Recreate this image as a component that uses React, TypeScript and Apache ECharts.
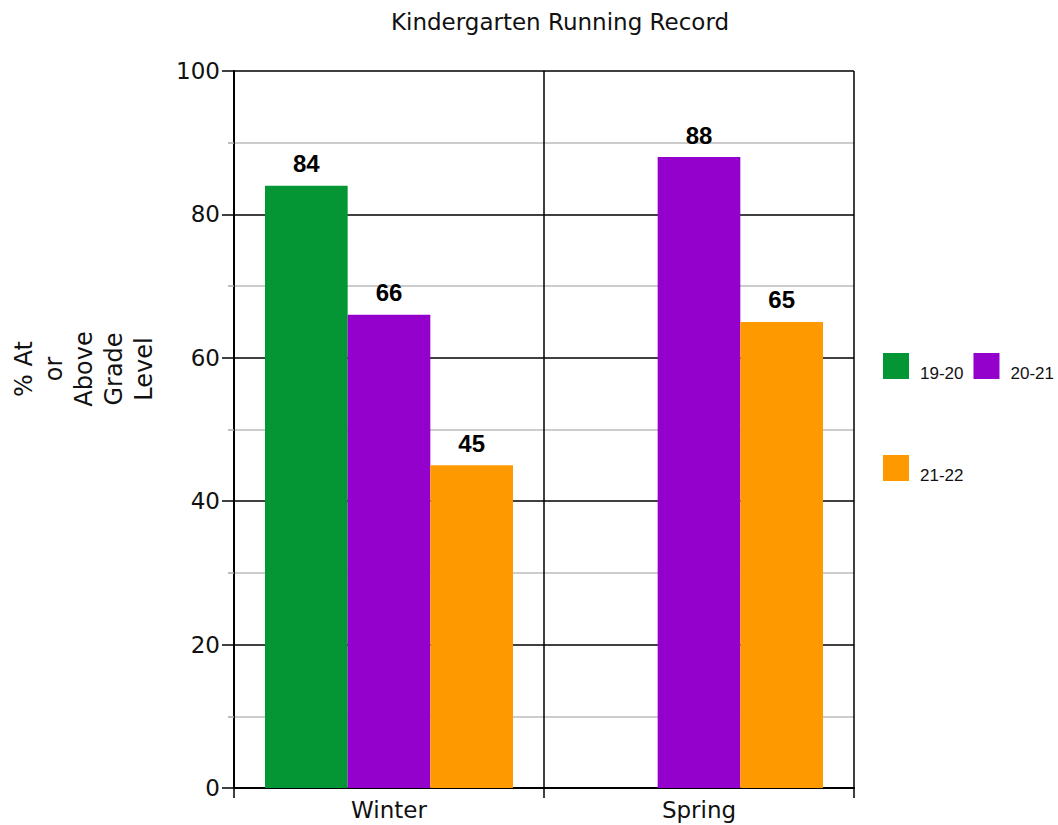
import React, { useEffect, useRef } from "react";
import * as echarts from "echarts";

const categories = ["Winter", "Spring"];
const seriesNames = ["19-20", "20-21", "21-22"];
const values1920 = [84, null];
const values2021 = [66, 88];
const values2122 = [45, 65];
const colors = ["#049634", "#9400CC", "#FF9900"];
const titleText = "Kindergarten Running Record";
const yAxisTitle = "% At\nor\nAbove\nGrade\nLevel";

export default function App() {
  const ref = useRef<HTMLDivElement>(null);
  useEffect(() => {
    if (!ref.current) return;
    const chart = echarts.init(ref.current, null, { renderer: "svg" });
    const font = "Liberation Sans, Arial, sans-serif";
    const wide = "DejaVu Sans, sans-serif";
    const allValues = [values1920, values2021, values2122];
    const legendText = {
      fontSize: 17,
      color: "#111",
      fontFamily: font,
      rich: { t: { fontSize: 17, color: "#111", fontFamily: font, padding: [15, 0, 0, 6] } },
    };
    chart.setOption({
      animation: false,
      backgroundColor: "#ffffff",
      textStyle: { fontFamily: font },
      title: {
        text: titleText,
        left: 555,
        top: 5,
        textAlign: "center",
        textStyle: { fontSize: 23, fontWeight: "normal", color: "#111", fontFamily: wide },
      },
      legend: [
        {
          data: [seriesNames[0], seriesNames[1]],
          left: 883,
          top: 353,
          padding: 0,
          itemGap: 10,
          itemWidth: 26,
          itemHeight: 26,
          icon: "rect",
          selectedMode: false,
          formatter: "{t|{name}}",
          textStyle: legendText,
        },
        {
          data: [seriesNames[2]],
          left: 883,
          top: 455,
          padding: 0,
          itemGap: 10,
          itemWidth: 26,
          itemHeight: 26,
          icon: "rect",
          selectedMode: false,
          formatter: "{t|{name}}",
          textStyle: legendText,
        },
      ],
      graphic: [
        {
          type: "text",
          x: 84,
          y: 369,
          rotation: Math.PI / 2,
          style: {
            text: yAxisTitle,
            fontSize: 24,
            lineHeight: 30,
            fontFamily: wide,
            fill: "#111",
            align: "center",
            verticalAlign: "middle",
          },
        },
      ],
      grid: { left: 234, right: 204, top: 71, bottom: 37, containLabel: false },
      xAxis: {
        type: "category",
        data: categories,
        axisLine: { show: true, lineStyle: { color: "#000", width: 2 } },
        axisTick: { show: true, length: 10, interval: 0, lineStyle: { color: "#000", width: 1.5 } },
        axisLabel: { fontSize: 23, color: "#111", margin: 10, fontFamily: wide },
        splitLine: { show: true, interval: 0, lineStyle: { color: "#000", width: 1.5 } },
      },
      yAxis: {
        type: "value",
        min: 0,
        max: 100,
        interval: 20,
        axisLine: { show: true, lineStyle: { color: "#000", width: 2 } },
        axisTick: { show: true, length: 12, lineStyle: { color: "#000", width: 1.5 } },
        minorTick: { show: true, splitNumber: 2, length: 6, lineStyle: { color: "#aaa", width: 1.5 } },
        axisLabel: { fontSize: 23, color: "#111", margin: 14, fontFamily: wide },
        splitLine: { show: true, lineStyle: { color: "#000", width: 1.5 } },
        minorSplitLine: { show: true, lineStyle: { color: "#bbb", width: 1.5 } },
      },
      series: seriesNames.map((name, i) => ({
        name,
        type: "bar",
        data: allValues[i],
        barGap: "0%",
        barCategoryGap: "20%",
        itemStyle: { color: colors[i] },
        label: {
          show: true,
          position: "top",
          distance: 10,
          fontSize: 24,
          fontWeight: "bold",
          color: "#000",
          fontFamily: font,
        },
      })),
    });
    return () => chart.dispose();
  }, []);
  return (
    <div
      ref={ref}
      style={{ position: "absolute", left: 0, top: 0, width: 1058, height: 825 }}
    />
  );
}
